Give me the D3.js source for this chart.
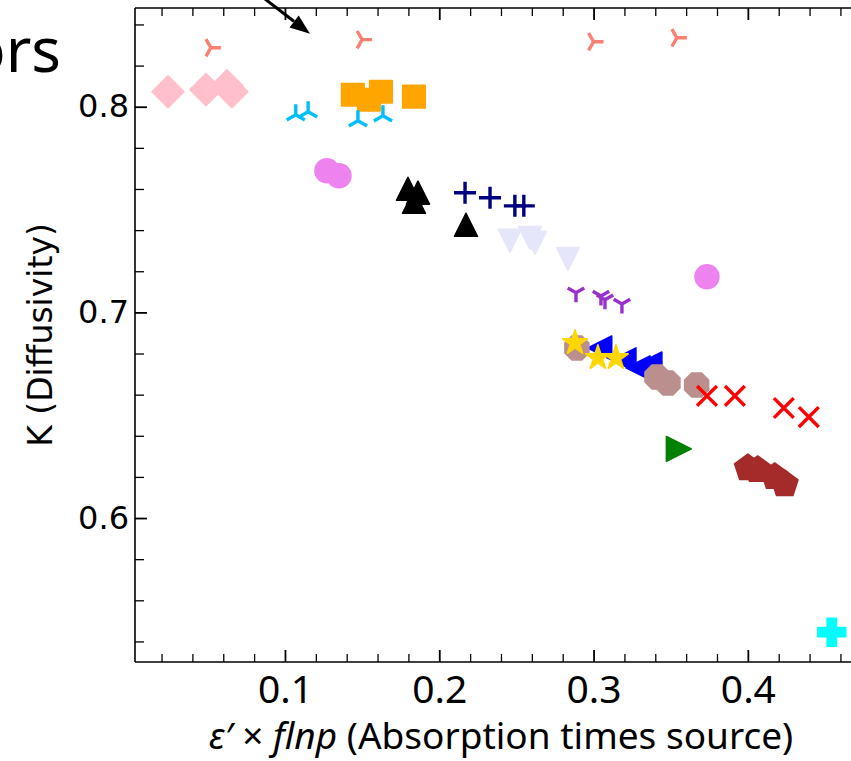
<!DOCTYPE html>
<html>
<head>
<meta charset="utf-8">
<script src="https://cdn.jsdelivr.net/npm/d3@7"></script>
<style>
  body { margin: 0; background: #fff; }
  svg { display: block; }
</style>
</head>
<body>
<svg id="chart" width="851" height="761"></svg>
<script>
'use strict';

// Points, one small list per group: [x, y].
const salmonPts = [[0.052, 0.8287], [0.150, 0.8326], [0.300, 0.8316], [0.354, 0.8335]];
const pinkPts = [[0.0242, 0.8073], [0.0488, 0.8083], [0.0624, 0.8102], [0.0656, 0.8073]];
const orangePts = [[0.144, 0.8058], [0.1544, 0.8034], [0.1622, 0.8073], [0.1836, 0.8049]];
const skyPts = [[0.107, 0.7961], [0.115, 0.7976], [0.1473, 0.7932], [0.1635, 0.7956]];
const violetPts = [[0.1272, 0.7689], [0.135, 0.7664], [0.3735, 0.7173]];
const blackPts = [[0.1797, 0.7601], [0.1862, 0.7582], [0.1836, 0.7538], [0.2173, 0.7426]];
const navyPts = [[0.2167, 0.7582], [0.2329, 0.7557], [0.249, 0.7518], [0.2548, 0.7518]];
const lavenderPts = [[0.2458, 0.7348], [0.2588, 0.7362], [0.262, 0.7338], [0.2834, 0.7260]];
const orchidPts = [[0.2886, 0.7095], [0.3048, 0.7080], [0.3074, 0.7061], [0.3184, 0.7041]];
const bluePts = [[0.304, 0.6827], [0.3197, 0.6769], [0.3288, 0.6730], [0.3365, 0.6749]];
const rosyPts = [[0.2892, 0.6827], [0.3411, 0.6686], [0.3482, 0.6657], [0.3668, 0.6647]];
const goldPts = [[0.288, 0.6852], [0.3028, 0.6779], [0.3145, 0.6779]];
const redPts = [[0.3735, 0.6594], [0.3916, 0.6594], [0.4233, 0.6535], [0.4395, 0.6491]];
const greenPts = [[0.3553, 0.6336]];
const brownPts = [[0.400, 0.6243], [0.4064, 0.6234], [0.4174, 0.6200], [0.4239, 0.6165]];
const cyanPts = [[0.4544, 0.5445]];

// Arrow annotation (tail, tip) in data units.
const arrowTail = [0.0708, 0.8618];
const arrowTip = [0.1162, 0.8355];

const xMajorTicks = [0.1, 0.2, 0.3, 0.4];
const yMajorTicks = [0.6, 0.7, 0.8];
const xMinorTicks = d3.range(1, 24).map(i => i * 0.02).filter(v => Math.abs(v * 10 - Math.round(v * 10)) > 1e-6);
const yMinorTicks = d3.range(27, 43).map(i => i * 0.02).filter(v => Math.abs(v * 10 - Math.round(v * 10)) > 1e-6);

// Marker shapes, drawn with a radius rather than an area.
const regular = (n, rot) => ({
  draw(c, r) {
    for (let i = 0; i < n; i++) {
      const a = rot + i * 2 * Math.PI / n;
      const px = r * Math.sin(a), py = -r * Math.cos(a);
      if (i === 0) c.moveTo(px, py); else c.lineTo(px, py);
    }
    c.closePath();
  }
});
const spokes = angles => ({
  draw(c, r) {
    angles.forEach(a => {
      c.moveTo(0, 0);
      c.lineTo(r * Math.sin(a * Math.PI / 180), -r * Math.cos(a * Math.PI / 180));
    });
  }
});
const marker = {
  diamond: regular(4, 0),
  square: regular(4, Math.PI / 4),
  octagon: regular(8, Math.PI / 8),
  pentagon: regular(5, 0),
  circle: { draw(c, r) { c.moveTo(r, 0); c.arc(0, 0, r, 0, 2 * Math.PI); } },
  triUp: { draw(c, r) { c.moveTo(0, -r); c.lineTo(r, r); c.lineTo(-r, r); c.closePath(); } },
  triDown: { draw(c, r) { c.moveTo(0, r); c.lineTo(r, -r); c.lineTo(-r, -r); c.closePath(); } },
  triLeft: { draw(c, r) { c.moveTo(-r, 0); c.lineTo(r, -r); c.lineTo(r, r); c.closePath(); } },
  triRight: { draw(c, r) { c.moveTo(r, 0); c.lineTo(-r, -r); c.lineTo(-r, r); c.closePath(); } },
  star: {
    draw(c, r) {
      for (let i = 0; i < 10; i++) {
        const rr = i % 2 ? r * 0.382 : r;
        const a = i * Math.PI / 5;
        if (i === 0) c.moveTo(0, -rr); else c.lineTo(rr * Math.sin(a), -rr * Math.cos(a));
      }
      c.closePath();
    }
  },
  plusFilled: {
    draw(c, r) {
      const t = r / 3;
      c.moveTo(-t, -r); c.lineTo(t, -r); c.lineTo(t, -t); c.lineTo(r, -t); c.lineTo(r, t);
      c.lineTo(t, t); c.lineTo(t, r); c.lineTo(-t, r); c.lineTo(-t, t); c.lineTo(-r, t);
      c.lineTo(-r, -t); c.lineTo(-t, -t); c.closePath();
    }
  },
  plus: spokes([0, 90, 180, 270]),
  cross: spokes([45, 135, 225, 315]),
  tri1: spokes([180, 300, 60]),   // 'Y', stem down
  tri2: spokes([0, 120, 240]),    // stem up
  tri4: spokes([90, 210, 330])    // stem right
};

// Draw order follows the overlaps in the picture.
const series = [
  { pts: salmonPts, color: '#fa8072', shape: 'tri4', r: 10, line: true },
  { pts: pinkPts, color: '#ffc0cb', shape: 'diamond', r: 16 },
  { pts: orangePts, color: '#ffa500', shape: 'square', r: 16 },
  { pts: skyPts, color: '#00bfff', shape: 'tri2', r: 10.5, line: true },
  { pts: violetPts, color: '#ee82ee', shape: 'circle', r: 12 },
  { pts: blackPts, color: '#000000', shape: 'triUp', r: 11.5 },
  { pts: navyPts, color: '#000080', shape: 'plus', r: 11, line: true },
  { pts: lavenderPts, color: '#e6e6fa', shape: 'triDown', r: 11.5 },
  { pts: orchidPts, color: '#9932cc', shape: 'tri1', r: 9.5, line: true },
  { pts: bluePts, color: '#0000ff', shape: 'triLeft', r: 12 },
  { pts: rosyPts, color: '#bc8f8f', shape: 'octagon', r: 13 },
  { pts: goldPts, color: '#ffd700', shape: 'star', r: 13 },
  { pts: redPts, color: '#ff0000', shape: 'cross', r: 14, line: true },
  { pts: greenPts, color: '#008000', shape: 'triRight', r: 12.5 },
  { pts: brownPts, color: '#a52a2a', shape: 'pentagon', r: 14 },
  { pts: cyanPts, color: '#00ffff', shape: 'plusFilled', r: 14 }
];

const svg = d3.select('#chart');
const x = d3.scaleLinear().domain([0.0028, 0.4675]).range([135, 852]);
const y = d3.scaleLinear().domain([0.53, 0.848]).range([662, 8]);

// Markers
const plot = svg.append('g').attr('class', 'points');
series.forEach(s => {
  const path = d3.symbol().type(marker[s.shape]).size(s.r)();
  plot.append('g').selectAll('path')
    .data(s.pts)
    .join('path')
      .attr('transform', d => `translate(${x(d[0])},${y(d[1])})`)
      .attr('d', path)
      .attr('fill', s.line ? 'none' : s.color)
      .attr('stroke', s.color)
      .attr('stroke-width', s.line ? 3.4 : 1.5)
      .attr('stroke-linejoin', 'round');
});

// Ticks point inwards on bottom, top and left.
const tickStyle = (g, width) => {
  g.select('.domain').remove();
  g.selectAll('.tick line').attr('stroke', '#000').attr('stroke-width', width);
};
const addAxis = (axis, transform, width) =>
  svg.append('g').attr('transform', transform).call(axis).call(g => tickStyle(g, width));

addAxis(d3.axisBottom(x).tickValues(xMinorTicks).tickSize(-8).tickFormat(''), 'translate(0,662)', 1.3);
addAxis(d3.axisTop(x).tickValues(xMinorTicks).tickSize(-8).tickFormat(''), 'translate(0,8)', 1.3);
addAxis(d3.axisTop(x).tickValues(xMajorTicks).tickSize(-12).tickFormat(''), 'translate(0,8)', 1.8);
addAxis(d3.axisLeft(y).tickValues(yMinorTicks).tickSize(-9).tickFormat(''), 'translate(135,0)', 1.3);

addAxis(d3.axisBottom(x).tickValues(xMajorTicks).tickSize(-12).tickPadding(13).tickFormat(d3.format('.1f')),
  'translate(0,662)', 1.8)
  .attr('font-family', '"Noto Sans", sans-serif')
  .attr('font-size', 39)
  .selectAll('text').attr('fill', '#000');

addAxis(d3.axisLeft(y).tickValues(yMajorTicks).tickSize(-12).tickPadding(6).tickFormat(d3.format('.1f')),
  'translate(135,0)', 1.8)
  .attr('font-family', '"DejaVu Sans", sans-serif')
  .attr('font-size', 32)
  .selectAll('text').attr('fill', '#000');

// Spines
const spines = svg.append('g').attr('stroke', '#000').attr('stroke-width', 1.6).attr('fill', 'none');
spines.append('line').attr('x1', 135).attr('x2', 135).attr('y1', 8).attr('y2', 662);
spines.append('line').attr('x1', 135).attr('x2', 852).attr('y1', 662).attr('y2', 662);
spines.append('line').attr('x1', 135).attr('x2', 852).attr('y1', 8).attr('y2', 8);

// Axis titles
const xTitle = svg.append('text')
  .attr('x', 501).attr('y', 749)
  .attr('text-anchor', 'middle')
  .attr('font-family', '"Noto Sans", sans-serif')
  .attr('font-size', 37);
xTitle.append('tspan').attr('font-style', 'italic').text('ε′');
xTitle.append('tspan').text(' × ');
xTitle.append('tspan').attr('font-style', 'italic').text('flnp');
xTitle.append('tspan').text(' (Absorption times source)');

svg.append('text')
  .attr('transform', 'translate(52,335) rotate(-90)')
  .attr('text-anchor', 'middle')
  .attr('font-family', '"DejaVu Sans", sans-serif')
  .attr('font-size', 33)
  .text('K (Diffusivity)');

// Partly hidden heading on the left edge
svg.append('text')
  .attr('x', 61).attr('y', 72)
  .attr('text-anchor', 'end')
  .attr('font-family', '"Noto Sans", sans-serif')
  .attr('font-size', 62)
  .text('ors');

// Arrow annotation
const [tx, ty] = [x(arrowTip[0]), y(arrowTip[1])];
const [sx, sy] = [x(arrowTail[0]), y(arrowTail[1])];
const ang = Math.atan2(ty - sy, tx - sx);
const headLen = 20, headHalf = 7.5;
const bx = tx - headLen * Math.cos(ang), by = ty - headLen * Math.sin(ang);
svg.append('line')
  .attr('x1', sx).attr('y1', sy).attr('x2', bx).attr('y2', by)
  .attr('stroke', '#000').attr('stroke-width', 3);
svg.append('path')
  .attr('d', d3.line()([
    [tx, ty],
    [bx + headHalf * Math.sin(ang), by - headHalf * Math.cos(ang)],
    [bx - headHalf * Math.sin(ang), by + headHalf * Math.cos(ang)]
  ]) + 'Z')
  .attr('fill', '#000');
</script>
</body>
</html>
